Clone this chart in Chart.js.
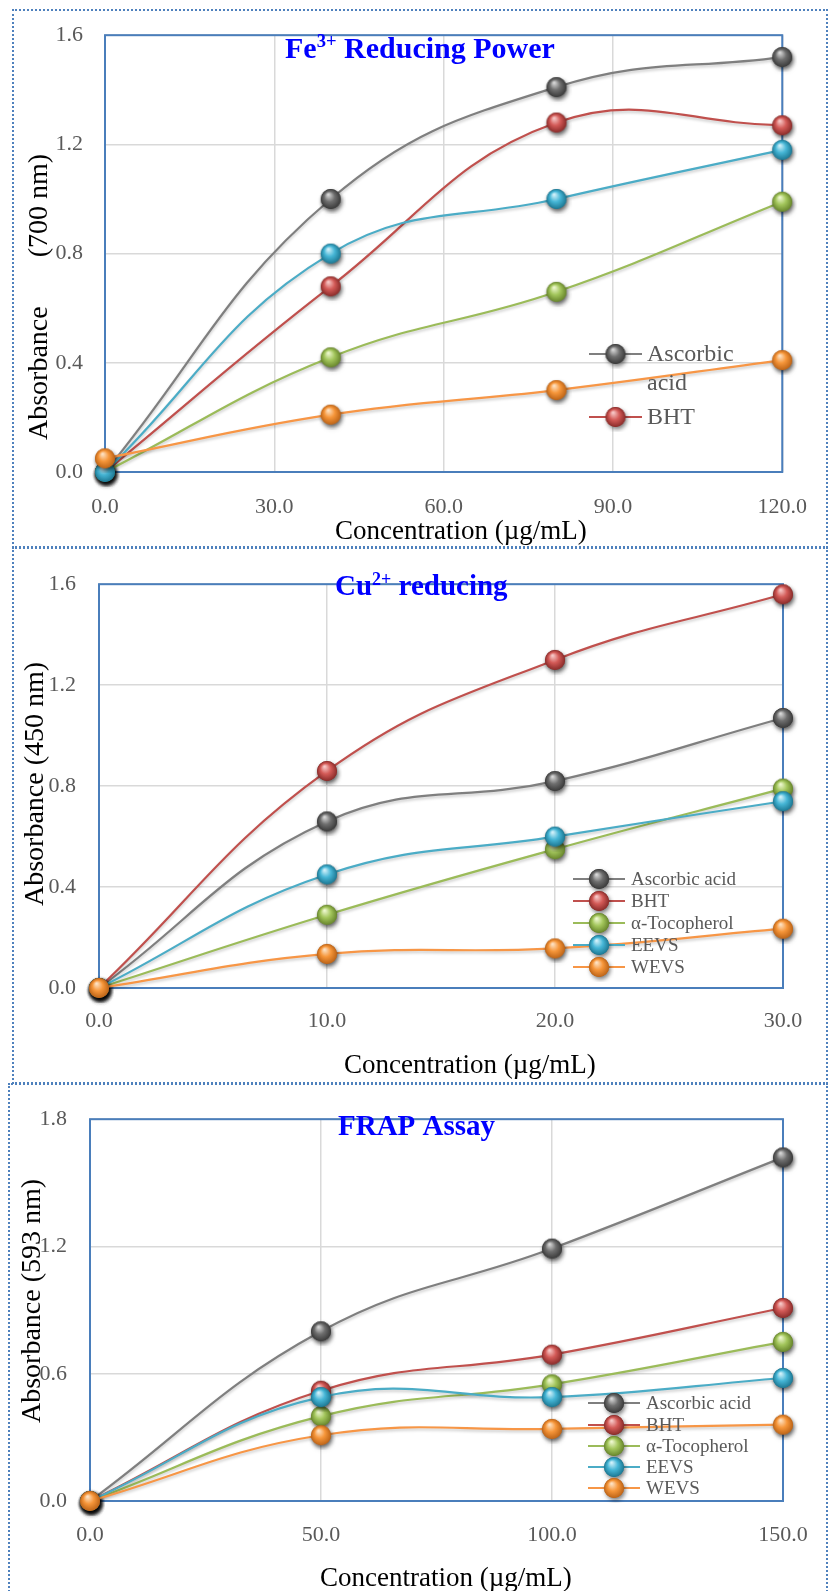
<!DOCTYPE html>
<html><head><meta charset="utf-8">
<script src="https://cdn.jsdelivr.net/npm/chart.js@4.4.1/dist/chart.umd.min.js"></script>
<style>
html,body{margin:0;padding:0;background:#fff;width:829px;height:1591px;overflow:hidden;position:relative}
.panel{position:absolute;border:2px dotted #4f81bd;box-sizing:border-box}
canvas{position:absolute;left:0}
</style></head><body>
<div class="panel" style="left:12px;top:9px;width:816px;height:539px"></div>
<div class="panel" style="left:12px;top:547px;width:816px;height:537px"></div>
<div class="panel" style="left:8px;top:1083px;width:820px;height:520px"></div>
<canvas id="c1" width="829" height="548" style="top:0px"></canvas>
<canvas id="c2" width="829" height="535" style="top:548px"></canvas>
<canvas id="c3" width="829" height="508" style="top:1083px"></canvas>
<script>
// ---------- DATA ----------
const seriesNames = ['Ascorbic acid', 'BHT', 'α-Tocopherol', 'EEVS', 'WEVS'];

const feConc      = [0, 40, 80, 120];
const feAscorbic  = [0.00, 1.00, 1.41, 1.52];
const feBHT       = [0.00, 0.68, 1.28, 1.27];
const feToco      = [0.00, 0.42, 0.66, 0.99];
const feEEVS      = [0.00, 0.80, 1.00, 1.18];
const feWEVS      = [0.05, 0.21, 0.30, 0.41];
const feXTicks    = [0, 30, 60, 90, 120];
const feYTicks    = [0, 0.4, 0.8, 1.2, 1.6];

const cuConc      = [0, 10, 20, 30];
const cuAscorbic  = [0.00, 0.66, 0.82, 1.07];
const cuBHT       = [0.00, 0.86, 1.30, 1.56];
const cuToco      = [0.00, 0.29, 0.55, 0.79];
const cuEEVS      = [0.00, 0.45, 0.60, 0.74];
const cuWEVS      = [0.00, 0.135, 0.157, 0.235];
const cuXTicks    = [0, 10, 20, 30];
const cuYTicks    = [0, 0.4, 0.8, 1.2, 1.6];

const frapConc     = [0, 50, 100, 150];
const frapAscorbic = [0.00, 0.80, 1.19, 1.62];
const frapBHT      = [0.00, 0.52, 0.69, 0.91];
const frapToco     = [0.00, 0.40, 0.55, 0.75];
const frapEEVS     = [0.00, 0.49, 0.49, 0.58];
const frapWEVS     = [0.00, 0.31, 0.34, 0.36];
const frapXTicks   = [0, 50, 100, 150];
const frapYTicks   = [0, 0.6, 1.2, 1.8];

// ---------- STYLE ----------
const lineColors = ['#7f7f7f', '#c0504d', '#9bbb59', '#4bacc6', '#f79646'];
const ballColors = [
  ['#6e6e6e', '#d8d8d8', '#3a3a3a'],
  ['#d35a57', '#f7c9c8', '#8a2c2a'],
  ['#a3c65c', '#eef8d0', '#68862c'],
  ['#46b6d6', '#d2f1fa', '#1d7893'],
  ['#f6963a', '#fde2c4', '#bd6417']
];
function sphere(c) {
  const s = 30, cv = document.createElement('canvas');
  cv.width = s; cv.height = s;
  const g = cv.getContext('2d'), cx = s / 2, cy = s / 2, r = 10;
  g.save();
  g.shadowColor = 'rgba(0,0,0,0.5)'; g.shadowBlur = 4; g.shadowOffsetX = 1.5; g.shadowOffsetY = 2.5;
  g.beginPath(); g.arc(cx, cy, r, 0, Math.PI * 2); g.fillStyle = c[2]; g.fill();
  g.restore();
  const gr = g.createRadialGradient(cx - 2.5, cy - 4.5, 0.5, cx, cy, r);
  gr.addColorStop(0, c[1]); gr.addColorStop(0.5, c[0]); gr.addColorStop(1, c[2]);
  g.beginPath(); g.arc(cx, cy, r, 0, Math.PI * 2); g.fillStyle = gr; g.fill();
  return cv;
}
const balls = ballColors.map(sphere);

const TICK_FONT = {family: 'Liberation Serif', size: 22};
const TICK_COLOR = '#595959';

const decoPlugin = {
  id: 'deco',
  beforeDatasetsDraw(chart) {
    const a = chart.chartArea, ctx = chart.ctx;
    ctx.save();
    ctx.strokeStyle = '#4a7ebb'; ctx.lineWidth = 2;
    ctx.strokeRect(a.left, a.top, a.right - a.left, a.bottom - a.top);
    ctx.restore();
  },
  beforeDatasetDraw(chart) {
    const ctx = chart.ctx; ctx.save();
    ctx.shadowColor = 'rgba(0,0,0,0.22)'; ctx.shadowBlur = 3; ctx.shadowOffsetY = 2;
  },
  afterDatasetDraw(chart) { chart.ctx.restore(); },
  afterDraw(chart, args, o) {
    const ctx = chart.ctx;
    ctx.save();
    if (o.title) {
      const t = o.title; let x = t.x;
      ctx.fillStyle = '#0000ff'; ctx.textBaseline = 'alphabetic'; ctx.textAlign = 'left';
      t.parts.forEach(p => {
        const sz = p.sup ? t.size * 0.62 : t.size;
        ctx.font = 'bold ' + sz + 'px "Liberation Serif"';
        ctx.fillText(p.text, x, p.sup ? t.y - t.size * 0.36 : t.y);
        x += ctx.measureText(p.text).width;
      });
    }
    ctx.fillStyle = '#000'; ctx.font = o.axisSize + 'px "Liberation Serif"';
    ctx.textAlign = 'left'; ctx.textBaseline = 'alphabetic';
    ctx.fillText(o.xTitle.text, o.xTitle.x, o.xTitle.y);
    ctx.save();
    ctx.font = o.yTitle.size + 'px "Liberation Serif"';
    ctx.translate(o.yTitle.x, o.yTitle.y); ctx.rotate(-Math.PI / 2);
    ctx.fillText(o.yTitle.text, 0, 0);
    ctx.restore();
    const L = o.legend;
    ctx.font = L.size + 'px "Liberation Serif"'; ctx.textBaseline = 'middle';
    L.items.forEach(it => {
      const ds = chart.data.datasets[it.index];
      ctx.strokeStyle = ds.borderColor; ctx.lineWidth = 2;
      ctx.beginPath(); ctx.moveTo(L.x1, it.y); ctx.lineTo(L.x2, it.y); ctx.stroke();
      const b = balls[it.index];
      ctx.drawImage(b, (L.x1 + L.x2) / 2 - b.width / 2, it.y - b.height / 2);
      ctx.fillStyle = '#595959';
      const lines = it.lines || [ds.label];
      lines.forEach((ln, j) => ctx.fillText(ln, L.tx, it.y + 1 + j * L.lh));
    });
    ctx.restore();
  }
};

function makeDatasets(conc, series) {
  return series.map((vals, i) => ({
    label: seriesNames[i],
    data: conc.map((x, j) => ({x: x, y: vals[j]})),
    borderColor: lineColors[i],
    backgroundColor: lineColors[i],
    borderWidth: 2.2,
    tension: 0.42,
    pointStyle: balls[i],
    pointRadius: 10,
    pointHoverRadius: 10,
    clip: false,
    order: series.length - i
  }));
}

function makeChart(id, cfg) {
  const cv = document.getElementById(id);
  const H = cv.height, W = cv.width;
  new Chart(cv, {
    type: 'line',
    data: {datasets: makeDatasets(cfg.conc, cfg.series)},
    options: {
      responsive: false, animation: false, events: [],
      layout: {padding: {top: cfg.area.top, right: W - cfg.area.right, left: 0, bottom: 0}},
      plugins: {legend: {display: false}, tooltip: {enabled: false}, deco: cfg.deco},
      scales: {
        x: {
          type: 'linear', min: cfg.xTicks[0], max: cfg.xTicks[cfg.xTicks.length - 1],
          afterBuildTicks: s => { s.ticks = cfg.xTicks.map(v => ({value: v})); },
          afterFit: s => { s.height = H - cfg.area.bottom; },
          ticks: {callback: v => v.toFixed(1), color: TICK_COLOR, font: TICK_FONT, padding: cfg.xPad, maxRotation: 0, autoSkip: false},
          grid: {color: '#d9d9d9', lineWidth: 1.5, drawTicks: false},
          border: {display: false}
        },
        y: {
          type: 'linear', min: cfg.yTicks[0], max: cfg.yTicks[cfg.yTicks.length - 1],
          afterBuildTicks: s => { s.ticks = cfg.yTicks.map(v => ({value: v})); },
          afterFit: s => { s.width = cfg.area.left; },
          ticks: {callback: v => v.toFixed(1), color: TICK_COLOR, font: TICK_FONT, padding: cfg.yPad},
          grid: {color: '#d9d9d9', lineWidth: 1.5, drawTicks: false},
          border: {display: false}
        }
      }
    },
    plugins: [decoPlugin]
  });
}

// Panel 1 (canvas top 0)
makeChart('c1', {
  conc: feConc, series: [feAscorbic, feBHT, feToco, feEEVS, feWEVS],
  xTicks: feXTicks, yTicks: feYTicks,
  area: {left: 105, right: 783, top: 23, bottom: 472}, xPad: 22, yPad: 22,
  deco: {
    title: {x: 285, y: 58, size: 30, parts: [{text: 'Fe'}, {text: '3+', sup: true}, {text: ' Reducing Power'}]},
    axisSize: 27,
    xTitle: {text: 'Concentration (µg/mL)', x: 335, y: 539},
    yTitle: {text: 'Absorbance       (700 nm)', x: 47, y: 440, size: 28},
    legend: {size: 24, x1: 589, x2: 642, tx: 647, lh: 29, items: [
      {index: 0, y: 354, lines: ['Ascorbic', 'acid']},
      {index: 1, y: 417}
    ]}
  }
});

// Panel 2 (canvas top 548)
makeChart('c2', {
  conc: cuConc, series: [cuAscorbic, cuBHT, cuToco, cuEEVS, cuWEVS],
  xTicks: cuXTicks, yTicks: cuYTicks,
  area: {left: 99, right: 783, top: 21, bottom: 440}, xPad: 20, yPad: 23,
  deco: {
    title: {x: 335, y: 47, size: 29, parts: [{text: 'Cu'}, {text: '2+', sup: true}, {text: ' reducing'}]},
    axisSize: 27,
    xTitle: {text: 'Concentration (µg/mL)', x: 344, y: 525},
    yTitle: {text: 'Absorbance (450 nm)', x: 43, y: 358, size: 28},
    legend: {size: 19, x1: 573, x2: 625, tx: 631, lh: 18, items: [
      {index: 0, y: 331}, {index: 1, y: 353}, {index: 2, y: 375}, {index: 3, y: 397}, {index: 4, y: 419}
    ]}
  }
});

// Panel 3 (canvas top 1083)
makeChart('c3', {
  conc: frapConc, series: [frapAscorbic, frapBHT, frapToco, frapEEVS, frapWEVS],
  xTicks: frapXTicks, yTicks: frapYTicks,
  area: {left: 90, right: 783, top: 20, bottom: 418}, xPad: 21, yPad: 23,
  deco: {
    title: {x: 338, y: 52, size: 29, parts: [{text: 'FRAP Assay'}]},
    axisSize: 27,
    xTitle: {text: 'Concentration (µg/mL)', x: 320, y: 503},
    yTitle: {text: 'Absorbance (593 nm)', x: 40, y: 340, size: 28},
    legend: {size: 19, x1: 588, x2: 640, tx: 646, lh: 18, items: [
      {index: 0, y: 320}, {index: 1, y: 342}, {index: 2, y: 363}, {index: 3, y: 384}, {index: 4, y: 405}
    ]}
  }
});
</script>
</body></html>
